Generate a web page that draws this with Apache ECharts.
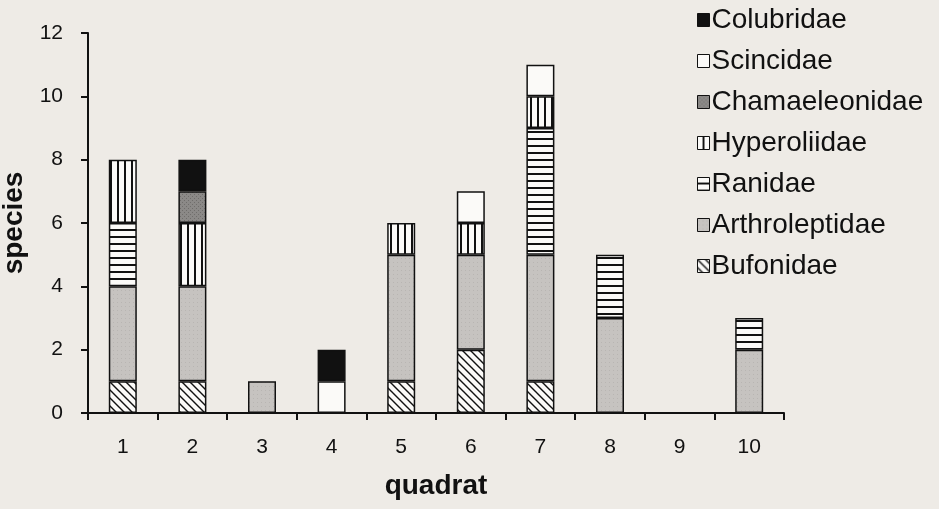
<!DOCTYPE html>
<html><head><meta charset="utf-8">
<script src="https://cdn.jsdelivr.net/npm/echarts@6/dist/echarts.min.js"></script>
<style>html,body{margin:0;padding:0;background:#eeebe6;}#c{width:939px;height:509px;}</style>
</head><body><div id="c"></div>
<script>
const categories = ['1','2','3','4','5','6','7','8','9','10'];
const bufonidae      = [1,1,0,0,1,2,1,0,0,0];
const arthroleptidae = [3,3,1,0,4,3,4,3,0,2];
const ranidae        = [2,0,0,0,0,0,4,2,0,1];
const hyperoliidae   = [2,2,0,0,1,1,1,0,0,0];
const chamaeleonidae = [0,1,0,0,0,0,0,0,0,0];
const scincidae      = [0,0,0,1,0,1,1,0,0,0];
const colubridae     = [0,1,0,1,0,0,0,0,0,0];
const yTicks = [0,2,4,6,8,10,12];

function pat(w,h,draw){const c=document.createElement('canvas');c.width=w;c.height=h;const g=c.getContext('2d');draw(g,w,h);return {image:c,repeat:'repeat'};}
const diag = pat(8,8,(g,w,h)=>{g.fillStyle='#fbfaf8';g.fillRect(0,0,w,h);g.strokeStyle='#111';g.lineWidth=1.4;
  g.beginPath();g.moveTo(-1,-1);g.lineTo(w+1,h+1);g.moveTo(-1-w,-1);g.lineTo(1,h+1);g.moveTo(w-1,-1);g.lineTo(2*w+1,h+1);g.stroke();});
const horiz = pat(8,7,(g,w,h)=>{g.fillStyle='#fbfaf8';g.fillRect(0,0,w,h);g.fillStyle='#111';g.fillRect(0,5,w,2);});
const vert = pat(7,8,(g,w,h)=>{g.fillStyle='#fbfaf8';g.fillRect(0,0,w,h);g.fillStyle='#111';g.fillRect(5,0,2,h);});
const grey = pat(4,4,(g,w,h)=>{g.fillStyle='#c6c3c0';g.fillRect(0,0,w,h);g.fillStyle='#b8b5b2';g.fillRect(1,2,1,1);});
const dgrey = pat(4,4,(g,w,h)=>{g.fillStyle='#8b8987';g.fillRect(0,0,w,h);g.fillStyle='#6f6d6b';g.fillRect(0,0,1,1);g.fillRect(2,2,1,1);});

const seriesDef = [
  ['Bufonidae', bufonidae, diag],
  ['Arthroleptidae', arthroleptidae, grey],
  ['Ranidae', ranidae, horiz],
  ['Hyperoliidae', hyperoliidae, vert],
  ['Chamaeleonidae', chamaeleonidae, dgrey],
  ['Scincidae', scincidae, '#fbfaf8'],
  ['Colubridae', colubridae, '#111111']
];
const font = 'Liberation Sans, Arial, sans-serif';
const chart = echarts.init(document.getElementById('c'));
chart.setOption({
  backgroundColor:'#eeebe6',
  animation:false,
  textStyle:{fontFamily:font},
  grid:{left:88,right:155,top:33,bottom:96,containLabel:false,outerBoundsMode:'none'},
  legend:{
    orient:'vertical', left:692, top:1, itemGap:13, itemWidth:12, itemHeight:13,
    icon:'rect',
    data:['Colubridae','Scincidae','Chamaeleonidae','Hyperoliidae','Ranidae','Arthroleptidae','Bufonidae'],
    textStyle:{fontSize:28,lineHeight:28,color:'#111',fontFamily:font,padding:[0,0,0,-3]},
    itemStyle:{borderColor:'#111',borderWidth:1}
  },
  xAxis:{
    type:'category', data:categories, boundaryGap:true,
    name:'quadrat', nameLocation:'middle', nameGap:59,
    nameTextStyle:{fontSize:28,fontWeight:'bold',color:'#111',fontFamily:font},
    axisLine:{lineStyle:{color:'#111',width:2}},
    axisTick:{show:true,length:7,lineStyle:{color:'#111',width:2},alignWithLabel:false},
    axisLabel:{fontSize:21,color:'#111',margin:24,fontFamily:font}
  },
  yAxis:{
    type:'value', min:0, max:12, interval:2,
    name:'species', nameLocation:'middle', nameGap:57, nameRotate:90,
    nameTextStyle:{fontSize:28,fontWeight:'bold',color:'#111',fontFamily:font},
    axisLine:{show:true,lineStyle:{color:'#111',width:2}},
    axisTick:{show:true,length:7,lineStyle:{color:'#111',width:2}},
    splitLine:{show:false},
    axisLabel:{fontSize:21,color:'#111',margin:25,fontFamily:font,
      formatter:v=>yTicks.includes(v)?String(v):''}
  },
  series: seriesDef.map(([name,vals,col])=>({
    name, type:'bar', stack:'all', barWidth:28,
    data: vals.map(v=>v===0?'-':v),
    itemStyle:{color:col,borderColor:'#111',borderWidth:1.5},
    emphasis:{disabled:true}
  }))
});
</script></body></html>
